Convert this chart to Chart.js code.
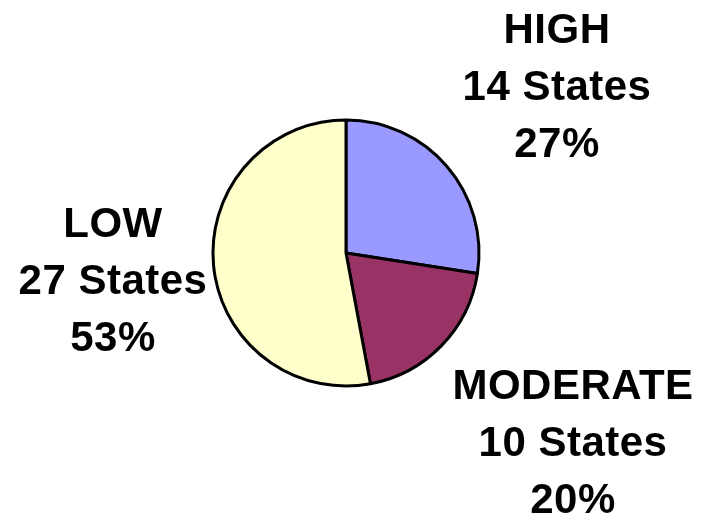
<!DOCTYPE html>
<html lang="en">
<head>
  <meta charset="UTF-8" />
  <title>States by Level</title>
  <script src="https://cdn.jsdelivr.net/npm/chart.js"></script>
  <style>
    html, body { margin: 0; padding: 0; background: #fff; }
    #wrap { width: 701px; height: 517px; }
  </style>
</head>
<body>
  <div id="wrap"><canvas id="pieChart" width="701" height="517"></canvas></div>
  <script>
    const categories = ['HIGH', 'MODERATE', 'LOW'];
    const stateCounts = [14, 10, 27];
    const sliceColors = ['#9999FF', '#993366', '#FFFFCC'];

    // label block offset from pie center, one per category
    const labelOffsets = [[211, -210], [227, 146], [-233, -16]];

    const total = stateCounts.reduce((a, b) => a + b, 0);

    const labelPlugin = {
      id: 'sliceLabels',
      afterDraw(chart) {
        const arc = chart.getDatasetMeta(0).data[0];
        const ctx = chart.ctx;
        ctx.save();
        ctx.fillStyle = '#000';
        ctx.font = 'bold 42px "Liberation Sans", Arial, sans-serif';
        ctx.letterSpacing = '0.5px';
        ctx.textAlign = 'center';
        ctx.textBaseline = 'alphabetic';
        categories.forEach((cat, i) => {
          const lines = [cat, stateCounts[i] + ' States', Math.round(stateCounts[i] / total * 100) + '%'];
          const x = arc.x + labelOffsets[i][0];
          let y = arc.y + labelOffsets[i][1];
          lines.forEach(t => {
            ctx.fillText(t, x, y);
            y += 57;
          });
        });
        ctx.restore();
      }
    };

    new Chart(document.getElementById('pieChart'), {
      type: 'pie',
      data: {
        labels: categories,
        datasets: [{
          data: stateCounts,
          backgroundColor: sliceColors,
          borderColor: '#000',
          borderWidth: 3
        }]
      },
      options: {
        responsive: false,
        animation: false,
        radius: 133,
        layout: { padding: { left: 0, right: 9, top: 0, bottom: 11 } },
        events: [],
        plugins: {
          legend: { display: false },
          tooltip: { enabled: false }
        }
      },
      plugins: [labelPlugin]
    });
  </script>
</body>
</html>
